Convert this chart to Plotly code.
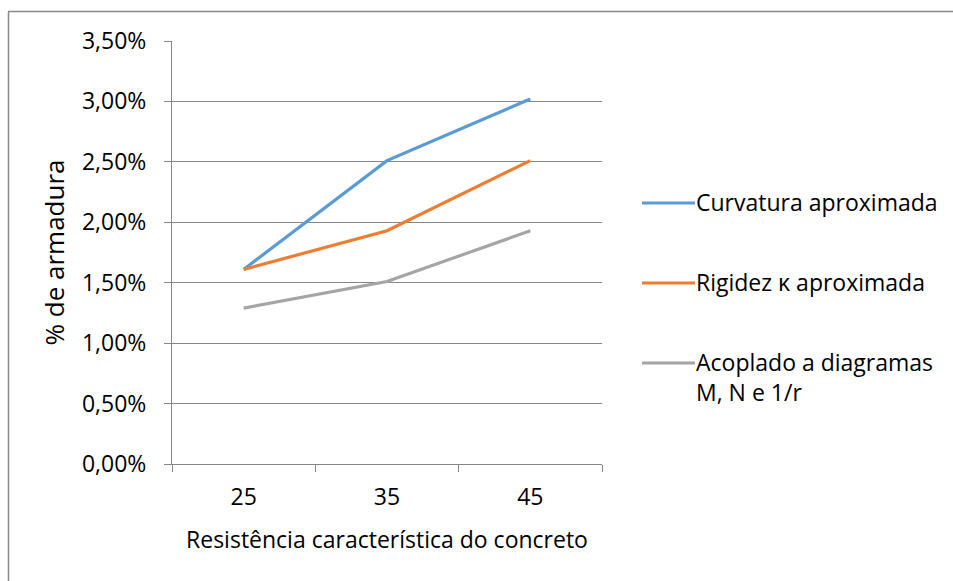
import plotly.graph_objects as go

# Concrete characteristic strength (MPa) and steel ratio per method
categorias = ["25", "35", "45"]
curvatura = [0.0161, 0.0251, 0.0302]
rigidez = [0.0161, 0.0193, 0.0251]
acoplado = [0.0129, 0.0151, 0.0193]

series = [
    ("Curvatura aproximada", curvatura, "#5B9BD5"),
    ("Rigidez κ aproximada", rigidez, "#ED7D31"),
    ("Acoplado a diagramas<br>M, N e 1/r", acoplado, "#A5A5A5"),
]

FONT = "Open Sans"
FS = 23
W, H = 953, 581
L, R, T, B = 172, 351, 41, 117
PW, PH = W - L - R, H - T - B


def px(x):
    return (x - L) / PW


def py(y):
    return (H - B - y) / PH


fig = go.Figure()
for nome, valores, cor in series:
    fig.add_trace(go.Scatter(
        x=categorias, y=valores, name=nome, mode="lines",
        line=dict(color=cor, width=3.2), showlegend=False,
    ))

# Legend drawn beside the plot: a line sample followed by the series label
legend_y = [203, 283, 363]
for (nome, _, cor), yy in zip(series, legend_y):
    fig.add_shape(type="line", xref="paper", yref="paper",
                  x0=px(642), x1=px(695), y0=py(yy), y1=py(yy),
                  line=dict(color=cor, width=3.2))
    fig.add_annotation(xref="paper", yref="paper",
                       x=px(694), y=py(yy - 19),
                       xanchor="left", yanchor="top", align="left",
                       text=nome, showarrow=False,
                       font=dict(family=FONT, size=FS, color="#000000"))

# Chart frame (left and top edges)
fig.add_shape(type="line", xref="paper", yref="paper",
              x0=px(8.5), x1=px(8.5), y0=py(600), y1=py(11.5),
              line=dict(color="#898989", width=1.5))
fig.add_shape(type="line", xref="paper", yref="paper",
              x0=px(8), x1=px(960), y0=py(11.5), y1=py(11.5),
              line=dict(color="#898989", width=1.5))

fig.update_layout(
    width=W, height=H,
    margin=dict(l=L, r=R, t=T, b=B),
    paper_bgcolor="white", plot_bgcolor="white",
    separators=",.",
    font=dict(family=FONT, size=FS, color="#000000"),
    xaxis=dict(
        type="category", categoryorder="array", categoryarray=categorias,
        range=[-0.5, 2.5], showgrid=False,
        showline=True, linecolor="#868686", linewidth=1,
        ticks="outside", tickson="boundaries", ticklen=7, tickcolor="#868686",
        ticklabelstandoff=12,
        tickfont=dict(family=FONT, size=FS, color="#000000"),
        title=dict(text="Resistência característica do concreto",
                   font=dict(family=FONT, size=FS, color="#000000"), standoff=21),
    ),
    yaxis=dict(
        range=[0, 0.035], dtick=0.005, tickformat=".2%",
        showgrid=True, gridcolor="#868686", gridwidth=1,
        showline=True, linecolor="#868686", linewidth=1,
        ticks="outside", ticklen=7, tickcolor="#868686",
        ticklabelstandoff=13, zeroline=False,
        tickfont=dict(family=FONT, size=FS, color="#000000"),
        title=dict(text="% de armadura",
                   font=dict(family=FONT, size=26, color="#000000"), standoff=9),
    ),
)

fig.write_html("out.html")
